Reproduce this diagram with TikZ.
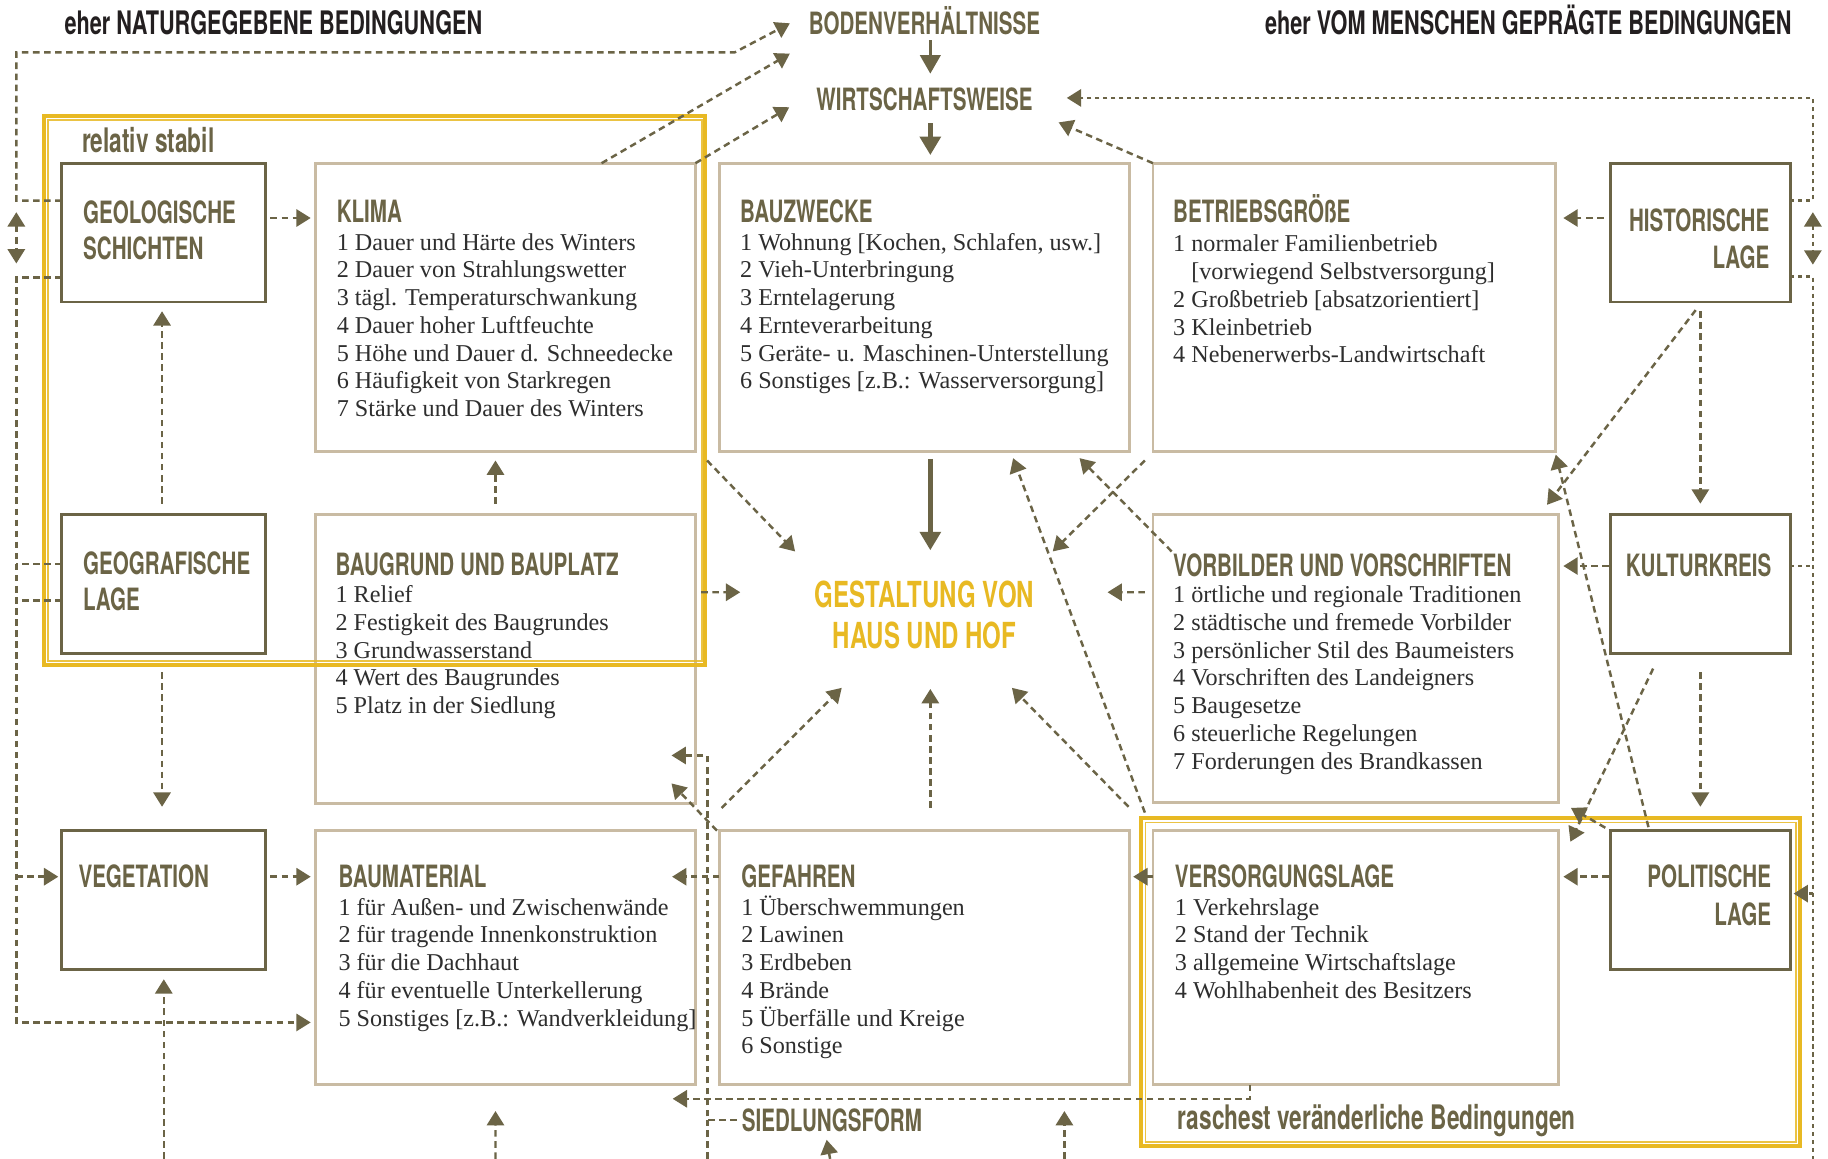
\documentclass[tikz,border=0pt]{standalone}
\usepackage{fontspec}
\setmainfont{Liberation Serif}
\newfontfamily\headfont[FakeStretch=0.67]{TeX Gyre Heros}
\usetikzlibrary{arrows.meta,calc,positioning}
\definecolor{olv}{HTML}{6B6446}
\definecolor{boxtan}{HTML}{C9BBA3}
\definecolor{ylw}{HTML}{E8B923}
\definecolor{ink}{HTML}{2E2E2E}
\definecolor{blk}{HTML}{231F20}

\begin{document}
\begin{tikzpicture}[x=0.02cm, y=-0.02cm,
    cbox/.style 2 args={draw=boxtan, line width=1.4pt, anchor=north west, inner sep=0pt, outer sep=0pt,
        minimum width=#1*0.02cm, minimum height=#2*0.02cm},
    fbox/.style 2 args={cbox={#1}{#2}, draw=olv},
    head/.style={anchor=base west, inner sep=0pt, text=olv, font=\headfont\bfseries\fontsize{15}{18}\selectfont},
    headr/.style={head, anchor=base east},
    lab/.style={head, font=\headfont\bfseries\fontsize{16.5}{19}\selectfont},
    top/.style={head, text=blk, font=\headfont\bfseries\fontsize{15.8}{19}\selectfont},
    item/.style={anchor=base west, inner sep=0pt, text=ink, font=\fontsize{11.8}{14}\selectfont},
    dar/.style={draw=olv, line width=1.2pt, dash pattern=on 3.2pt off 2.2pt, -{Triangle[length=7pt,width=8.4pt]}},
    dln/.style={dar, -},
    rail/.style={dar, dash pattern=on 2pt off 1.9pt},
    sar/.style={draw=olv, line width=2.2pt, -{Triangle[length=9pt,width=10pt]}},
    yfr/.style={draw=ylw, line width=2pt}]

    \fill[white] (0,0) rectangle (1568,994);
    \useasboundingbox (0,0) rectangle (1568,994);

    % titles
    \node[top] (natur) at (55,30) {eher NATURGEGEBENE BEDINGUNGEN};
    \node[top, anchor=base east] (mensch) at (1537,30) {eher VOM MENSCHEN GEPRÄGTE BEDINGUNGEN};
    \node[head, anchor=base] (boden) at (793,30) {BODENVERHÄLTNISSE};
    \node[head, anchor=base] (wirt) at (793,94.5) {WIRTSCHAFTSWEISE};
    \node[lab] (stabil) at (70,131) {relativ stabil};
    \node[lab] (rasch) at (1010,969) {raschest veränderliche Bedingungen};

    % row 1
    \node[fbox={175}{119}] (geol) at (53,140) {};
    \node[head] (geol-a) at ($(geol.north west)+(18,52)$) {GEOLOGISCHE};
    \node[head] (geol-b) at ($(geol.north west)+(18,83)$) {SCHICHTEN};

    \node[cbox={326}{247.5}] (klima) at (270.5,140) {};
    \node[head] (klima-h) at ($(klima.north west)+(18,51)$) {KLIMA};
    \foreach \t [count=\i from 0] in {1 Dauer und Härte des Winters, 2 Dauer von Strahlungswetter,
        3 tägl. Temperaturschwankung, 4 Dauer hoher Luftfeuchte, 5 Höhe und Dauer d. Schneedecke,
        6 Häufigkeit von Starkregen, 7 Stärke und Dauer des Winters}
        \node[item] (klima-\i) at ($(klima.north west)+(18,74.5+23.8*\i)$) {\t};

    \node[cbox={352}{247.5}] (zweck) at (617,140) {};
    \node[head] (zweck-h) at ($(zweck.north west)+(17.5,51)$) {BAUZWECKE};
    \foreach \t [count=\i from 0] in {{1 Wohnung [Kochen, Schlafen, usw.]}, 2 Vieh-Unterbringung,
        3 Erntelagerung, 4 Ernteverarbeitung, 5 Geräte- u. Maschinen-Unterstellung,
        {6 Sonstiges [z.B.: Wasserversorgung]}}
        \node[item] (zweck-\i) at ($(zweck.north west)+(17.5,74.5+23.8*\i)$) {\t};

    \node[cbox={345}{247.5}] (betrieb) at (989,140) {};
    \node[head] (betrieb-h) at ($(betrieb.north west)+(17,51)$) {BETRIEBSGRÖßE};
    \foreach \t [count=\i from 0] in {1 normaler Familienbetrieb, \phantom{1\ }[vorwiegend Selbstversorgung],
        2 Großbetrieb [absatzorientiert], 3 Kleinbetrieb, 4 Nebenerwerbs-Landwirtschaft}
        \node[item] (betrieb-\i) at ($(betrieb.north west)+(17,76+23.8*\i)$) {\t};

    \node[fbox={154}{119}] (hist) at (1381.5,140) {};
    \node[headr] (hist-a) at ($(hist.north east)+(-17.5,58.5)$) {HISTORISCHE};
    \node[headr] (hist-b) at ($(hist.north east)+(-17.5,90)$) {LAGE};

    % row 2
    \node[fbox={175}{119}] (geogr) at (53,441.5) {};
    \node[head] (geogr-a) at ($(geogr.north west)+(18,51.5)$) {GEOGRAFISCHE};
    \node[head] (geogr-b) at ($(geogr.north west)+(18,82)$) {LAGE};

    \node[cbox={326}{247.5}] (baugrund) at (270.5,441.5) {};
    \node[head] (baugrund-h) at ($(baugrund.north west)+(17,52)$) {BAUGRUND UND BAUPLATZ};
    \foreach \t [count=\i from 0] in {1 Relief, 2 Festigkeit des Baugrundes, 3 Grundwasserstand,
        4 Wert des Baugrundes, 5 Platz in der Siedlung}
        \node[item] (baugrund-\i) at ($(baugrund.north west)+(17,75.5+23.8*\i)$) {\t};

    \node[align=center, inner sep=0pt, text=ylw, font=\headfont\bfseries\fontsize{17.5}{20.3}\selectfont]
        (gest) at (793,527.5) {GESTALTUNG VON\\HAUS UND HOF};

    \node[cbox={347.5}{247}] (vorb) at (989,441.5) {};
    \node[head] (vorb-h) at ($(vorb.north west)+(17,53)$) {VORBILDER UND VORSCHRIFTEN};
    \foreach \t [count=\i from 0] in {1 örtliche und regionale Traditionen, 2 städtische und fremede Vorbilder,
        3 persönlicher Stil des Baumeisters, 4 Vorschriften des Landeigners, 5 Baugesetze,
        6 steuerliche Regelungen, 7 Forderungen des Brandkassen}
        \node[item] (vorb-\i) at ($(vorb.north west)+(17,75.5+23.8*\i)$) {\t};

    \node[fbox={154}{119}] (kult) at (1381.5,441.5) {};
    \node[head, anchor=base] (kult-a) at ($(kult.north)+(-1.5,53)$) {KULTURKREIS};

    % row 3
    \node[fbox={175}{119}] (veget) at (53,712.5) {};
    \node[head] (veget-a) at ($(veget.north west)+(14,49)$) {VEGETATION};

    \node[cbox={326}{217.5}] (mat) at (270.5,712.5) {};
    \node[head] (mat-h) at ($(mat.north west)+(19.5,48.5)$) {BAUMATERIAL};
    \foreach \t [count=\i from 0] in {1 für Außen- und Zwischenwände, 2 für tragende Innenkonstruktion,
        3 für die Dachhaut, 4 für eventuelle Unterkellerung, {5 Sonstiges [z.B.: Wandverkleidung]}}
        \node[item] (mat-\i) at ($(mat.north west)+(19.5,72.5+23.8*\i)$) {\t};

    \node[cbox={352}{218}] (gef) at (617,712.5) {};
    \node[head] (gef-h) at ($(gef.north west)+(18.5,48.5)$) {GEFAHREN};
    \foreach \t [count=\i from 0] in {1 Überschwemmungen, 2 Lawinen, 3 Erdbeben, 4 Brände,
        5 Überfälle und Kreige, 6 Sonstige}
        \node[item] (gef-\i) at ($(gef.north west)+(18.5,72.5+23.8*\i)$) {\t};

    \node[cbox={347.5}{218}] (vers) at (989,712.5) {};
    \node[head] (vers-h) at ($(vers.north west)+(18.5,48.5)$) {VERSORGUNGSLAGE};
    \foreach \t [count=\i from 0] in {1 Verkehrslage, 2 Stand der Technik, 3 allgemeine Wirtschaftslage,
        4 Wohlhabenheit des Besitzers}
        \node[item] (vers-\i) at ($(vers.north west)+(18.5,72.5+23.8*\i)$) {\t};

    \node[fbox={154}{119}] (polit) at (1381.5,712.5) {};
    \node[headr] (polit-a) at ($(polit.north east)+(-16,49)$) {POLITISCHE};
    \node[headr] (polit-b) at ($(polit.north east)+(-16,81)$) {LAGE};

    \node[head] (sied) at (636,970.5) {SIEDLUNGSFORM};

    % frames
    \draw[yfr] (37.5,99.5) rectangle (605,570.5);
    \draw[yfr, line width=0.8pt, opacity=0.85] (41,103) rectangle (602,567);
    \draw[yfr] (979,702) rectangle (1544,983);
    \draw[yfr, line width=0.8pt, opacity=0.85] (982.5,705.5) rectangle (1540.5,979.5);

    % free ends at the lower edge
    \coordinate (b140) at (140.5,994);
    \coordinate (b425) at (425,994);
    \coordinate (b607) at (607,994);
    \coordinate (b712) at (712,994);
    \coordinate (b913) at (913,994);
    \coordinate (b1555) at (1555,994);

    % solid arrows
    \draw[sar, line width=1.2pt] ($(boden.south)+(5,4)$) -- ($(wirt.north)+(5,-11.5)$);
    \draw[sar] ($(wirt.south)+(5,10.5)$) -- ($(zweck.north)+(5,-7)$);
    \draw[sar] ($(zweck.south)+(5,6)$) -- ($(gest.center)+(5,-55.5)$);

    % left side
    \draw[dar] ($(geol.north west)+(0,32)$) -| (14,45) -- (630,45) -- ($(boden.base west)+(-16,-10)$);
    \draw[dar, {Triangle[length=7pt,width=8.4pt]}-{Triangle[length=7pt,width=8.4pt]}]
        ($(geol.north west)+(-39,42)$) -- ($(geol.north west)+(-39,86)$);
    \draw[dar] ($(geol.north west)+(0,98)$) -| ($(mat.north west)+(-256.5,164.5)$) -- ($(mat.north west)+(-4,164.5)$);
    \draw[dln] ($(geogr.north west)+(0,42.5)$) -- +(-39,0);
    \draw[dln] ($(geogr.north west)+(0,73.5)$) -- +(-39,0);
    \draw[dar] ($(veget.north west)+(-39,39.5)$) -- ($(veget.north west)+(-3,39.5)$);
    \draw[dar] ($(geol.north east)+(4,47)$) -- ($(klima.north west)+(-4,47)$);
    \draw[dar] ($(geogr.north)+(-1.5,-9.5)$) -- ($(geol.south)+(-1.5,8)$);
    \draw[dar] ($(geogr.south)+(-1.5,16)$) -- ($(veget.north)+(-1.5,-20.5)$);
    \draw[dar] (b140) -- ($(veget.south)+(0,8.5)$);
    \draw[dar] ($(baugrund.north west)+(154.5,-9.5)$) -- ($(klima.south west)+(154.5,7.5)$);
    \draw[dar] ($(klima.north west)+(245.5,0)$) -- ($(boden.base west)+(-16,16)$);
    \draw[dar] (klima.north east) -- ($(wirt.base west)+(-23,-2.5)$);
    \draw[dar] (betrieb.north west) -- ($(wirt.base east)+(22,10.5)$);

    % into the centre
    \draw[dar] ($(klima.south east)+(10,7.5)$) -- ($(gest.center)+(-111,-54.5)$);
    \draw[dar] ($(baugrund.north east)+(5,66.5)$) -- ($(gest.center)+(-158,-19.5)$);
    \draw[dar] ($(betrieb.south west)+(-7,7.5)$) -- ($(gest.center)+(110,-54.5)$);
    \draw[dar] ($(vorb.north west)+(-7,66.5)$) -- ($(gest.center)+(157,-19.5)$);
    \draw[dar] ($(gef.north west)+(2,-19.5)$) -- ($(gest.center)+(-71,62.5)$);
    \draw[dar] ($(gef.north)+(5,-19.5)$) -- ($(gest.center)+(5,63.5)$);
    \draw[dar] ($(gef.north east)+(-1,-20.5)$) -- ($(gest.center)+(75,62.5)$);
    \draw[dar] ($(vorb.north west)+(16,31.5)$) -- ($(zweck.south east)+(-43,5.5)$);
    \draw[dar] ($(vers.north west)+(-7,-15.5)$) -- ($(zweck.south east)+(-100,5.5)$);

    % lower middle
    \draw[dar] ($(gef.north west)+(-2,0)$) -- ($(baugrund.south east)+(-20.5,-17)$);
    \draw[dar] ($(sied.west)+(-4,0)$) -| ($(baugrund.south east)+(10.3,-41)$) -- ($(baugrund.south east)+(-20.5,-41)$);
    \draw[dln] (b607) -- ($(sied.west)+(-29,0)$);
    \draw[dar] ($(vers.south west)+(83,0)$) |- ($(mat.south east)+(-19.5,12.5)$);
    \draw[dar] ($(vers.north west)+(0,39.5)$) -- ($(gef.north east)+(3,39.5)$);
    \draw[dar] ($(gef.north west)+(0,39.5)$) -- ($(mat.north east)+(-20,39.5)$);
    \draw[dar] ($(veget.north east)+(4,39.5)$) -- ($(mat.north west)+(-4,39.5)$);
    \draw[dar] (b425) -- ($(mat.south west)+(154.5,23)$);
    \draw[dar] (b913) -- ($(gef.south west)+(296,22.5)$);
    \draw[dar] (b712) -- ($(sied.south)+(-4.5,6.5)$);

    % right side
    \draw[dar] ($(hist.north west)+(-6,47)$) -- ($(betrieb.north east)+(7,47)$);
    \draw[rail] ($(hist.north east)+(0,32)$) -| ($(hist.north east)+(19.5,-56)$) -- ($(wirt.base east)+(29,-10.5)$);
    \draw[rail, {Triangle[length=7pt,width=8.4pt]}-{Triangle[length=7pt,width=8.4pt]}]
        ($(hist.north east)+(19.5,42)$) -- ($(hist.north east)+(19.5,87)$);
    \draw[rail, -] ($(hist.north east)+(0,97)$) -| (b1555);
    \draw[rail, -] ($(kult.north east)+(0,44)$) -- +(19.5,0);
    \draw[rail] ($(polit.north east)+(19.5,54)$) -- ($(polit.north east)+(3,54)$);
    \draw[dar] ($(hist.south)+(-4,7)$) -- ($(vorb.north east)+(-9.5,-8.5)$);
    \draw[dar] ($(hist.south)+(0,8)$) -- ($(kult.north)+(0,-9.5)$);
    \draw[dar] ($(kult.north west)+(-1.5,44)$) -- ($(vorb.north east)+(4.5,44)$);
    \draw[dar] ($(kult.south)+(0,16)$) -- ($(polit.north)+(0,-20.5)$);
    \draw[dar] ($(kult.south)+(-40.5,13)$) -- ($(vers.north east)+(10.5,9.5)$);
    \draw[dar] ($(polit.north west)+(32.5,-3)$) -- ($(betrieb.south east)+(0.5,2.5)$);
    \draw[dar] ($(polit.north west)+(-4.5,-2.5)$) -- ($(vorb.south east)+(11,4.5)$);
    \draw[dar] ($(polit.north west)+(-1.5,39.5)$) -- ($(vers.north east)+(4.5,39.5)$);
\end{tikzpicture}
\end{document}
